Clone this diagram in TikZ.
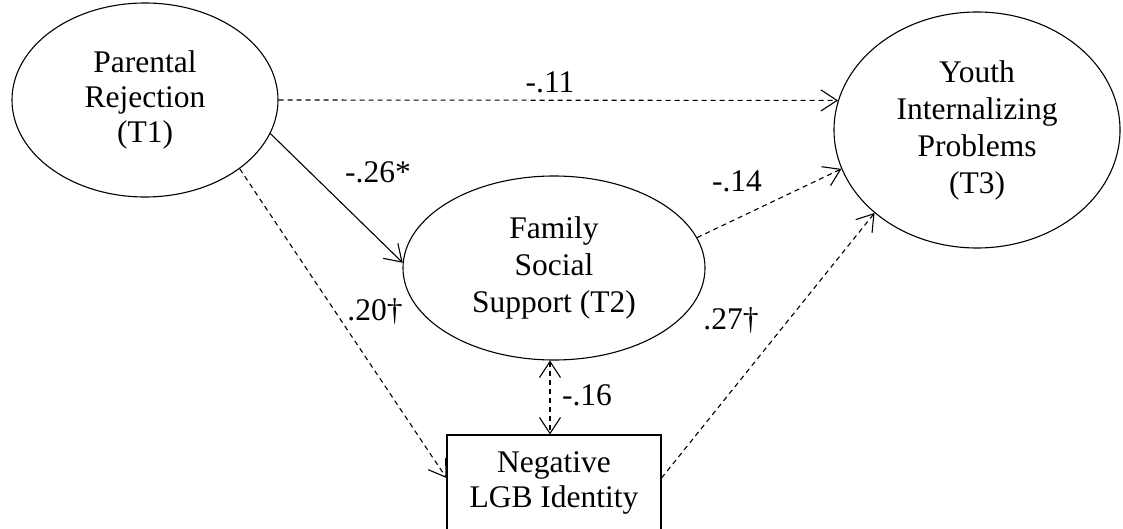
\documentclass[tikz,border=0pt]{standalone}
\usepackage{fontspec}
\setmainfont{Liberation Serif}
\usetikzlibrary{shapes.geometric, arrows.meta}
\tikzstyle{pathDiagram} = [x = 1pt, y = -1pt, line width = 1.1pt]
\tikzstyle{latentStyle} = [draw, ellipse, inner sep = 0pt, align = center, font = \fontsize{31.5}{37}\selectfont]
\tikzstyle{observedStyle} = [draw, rectangle, inner sep = 0pt, align = center, font = \fontsize{31.5}{35}\selectfont]
\tikzstyle{solidPath} = [-{Straight Barb[length = 16pt, width = 21pt]}]
\tikzstyle{dashedPath} = [solidPath, dash pattern = on 5pt off 4pt]
\tikzstyle{bothPath} = [{Straight Barb[length = 16pt, width = 21pt]}-{Straight Barb[length = 16pt, width = 21pt]}, dash pattern = on 5pt off 4pt]
\tikzstyle{coefText} = [font = \fontsize{31.5}{37}\selectfont, inner sep = 0pt, anchor = base]
\newcommand{\coefLabel}[3]{\node [coefText] (#1) at (#2) {#3};}

\begin{document}
\begin{tikzpicture}[pathDiagram]
  \useasboundingbox (0,0) rectangle (1123,529);
  % latent variables
  \node [latentStyle, minimum width = 266pt, minimum height = 194pt, font = \fontsize{31.5}{35}\selectfont] (parRej) at (145,100) {Parental\\Rejection\\(T1)};
  \node [latentStyle, minimum width = 302pt, minimum height = 184pt] (famSup) at (554,268) {Family\\Social\\Support (T2)};
  \node [latentStyle, minimum width = 286pt, minimum height = 236pt] (youthInt) at (977,130) {Youth\\Internalizing\\Problems\\(T3)};
  % observed variable
  \node [observedStyle, minimum width = 214pt, minimum height = 96pt] (negLGB) at (554,483) {Negative\\LGB Identity};

  % paths
  \draw [dashedPath] (parRej.east) -- (youthInt.168);
  \draw [solidPath] (parRej.-15) -- (famSup.178);
  \draw [dashedPath] (parRej.-36) -- ([yshift = 5pt]negLGB.west);
  \draw [dashedPath] (famSup.12.6) -- (youthInt.196.7);
  \draw [dashedPath] ([yshift = 5pt]negLGB.east) -- (youthInt.219.3);
  \draw [bothPath] ([xshift = -4pt]famSup.south) -- ([xshift = -4pt]negLGB.north);

  % coefficients
  \coefLabel{coefA}{550,93}{-.11}
  \coefLabel{coefB}{378,183}{-.26*}
  \coefLabel{coefC}{375,320}{.20†}
  \coefLabel{coefD}{737,192}{-.14}
  \coefLabel{coefE}{731,329}{.27†}
  \coefLabel{coefF}{587,405}{-.16}
\end{tikzpicture}
\end{document}
